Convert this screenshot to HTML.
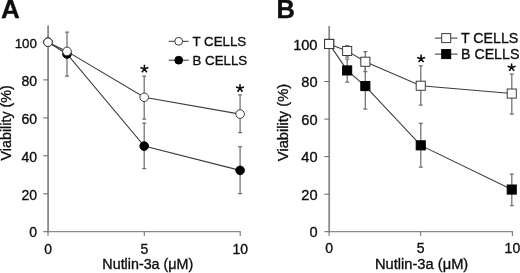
<!DOCTYPE html>
<html><head><meta charset="utf-8"><style>
html,body{margin:0;padding:0;background:#fff;}
svg{display:block;}
text{font-family:"Liberation Sans",sans-serif;fill:#0a0a0a;stroke:#0a0a0a;stroke-width:0.3px;}
</style></head><body>
<svg width="520" height="273" viewBox="0 0 520 273">
<defs><filter id="soft" x="0" y="0" width="520" height="273" filterUnits="userSpaceOnUse"><feGaussianBlur stdDeviation="0.4"/></filter></defs>
<rect width="520" height="273" fill="#fff"/>
<g filter="url(#soft)">
<path d="M48.1 25.5V232.29999999999998" fill="none" stroke="#8a8a8a" stroke-width="1.8"/>
<path d="M48 231.7H240.79999999999998" fill="none" stroke="#8a8a8a" stroke-width="1.3"/>
<path d="M43.2 231.7H48" stroke="#666" stroke-width="1"/>
<text x="37" y="237.4" text-anchor="end" font-size="14.0">0</text>
<path d="M43.2 193.8H48" stroke="#666" stroke-width="1"/>
<text x="37" y="199.5" text-anchor="end" font-size="14.0">20</text>
<path d="M43.2 155.8H48" stroke="#666" stroke-width="1"/>
<text x="37" y="161.6" text-anchor="end" font-size="14.0">40</text>
<path d="M43.2 117.9H48" stroke="#666" stroke-width="1"/>
<text x="37" y="123.6" text-anchor="end" font-size="14.0">60</text>
<path d="M43.2 79.9H48" stroke="#666" stroke-width="1"/>
<text x="37" y="85.7" text-anchor="end" font-size="14.0">80</text>
<path d="M43.2 42.0H48" stroke="#666" stroke-width="1"/>
<text x="37" y="47.7" text-anchor="end" font-size="13.4">100</text>
<path d="M48 231.7V235.89999999999998" stroke="#777" stroke-width="1.1"/>
<text x="48" y="253.5" text-anchor="middle" font-size="13.9">0</text>
<path d="M144.3 231.7V235.89999999999998" stroke="#777" stroke-width="1.1"/>
<text x="144.3" y="253.5" text-anchor="middle" font-size="13.9">5</text>
<path d="M240.2 231.7V235.89999999999998" stroke="#777" stroke-width="1.1"/>
<text x="240.2" y="253.5" text-anchor="middle" font-size="13.9">10</text>
<text x="147.8" y="268.8" text-anchor="middle" font-size="14.3">Nutlin-3a (μM)</text>
<text transform="translate(10.8,122.8) rotate(-90)" text-anchor="middle" font-size="14.3">Viability (%)</text>
<text x="1.0" y="18.3" font-size="26" font-weight="bold" fill="#000">A</text>
<path d="M48.0 42.2 L67.0 54.0 L144.2 146.1 L240.1 170.4" fill="none" stroke="#3c3c3c" stroke-width="1.1"/>
<path d="M67.0 32.0V76.0M65.0 32.0h4M65.0 76.0h4" fill="none" stroke="#707070" stroke-width="1.25"/>
<path d="M144.2 123.0V168.5M142.2 123.0h4M142.2 168.5h4" fill="none" stroke="#707070" stroke-width="1.25"/>
<path d="M240.1 146.5V193.5M238.1 146.5h4M238.1 193.5h4" fill="none" stroke="#707070" stroke-width="1.25"/>
<circle cx="48.0" cy="42.2" r="4.30" fill="#000" stroke="#000" stroke-width="1"/>
<circle cx="67.0" cy="54.0" r="4.30" fill="#000" stroke="#000" stroke-width="1"/>
<circle cx="144.2" cy="146.1" r="4.30" fill="#000" stroke="#000" stroke-width="1"/>
<circle cx="240.1" cy="170.4" r="4.30" fill="#000" stroke="#000" stroke-width="1"/>
<path d="M48.0 42.2 L67.0 51.4 L144.2 97.3 L240.1 114.1" fill="none" stroke="#3c3c3c" stroke-width="1.1"/>
<path d="M144.2 76.0V119.0M142.2 76.0h4M142.2 119.0h4" fill="none" stroke="#707070" stroke-width="1.25"/>
<path d="M240.1 94.8V132.6M238.1 94.8h4M238.1 132.6h4" fill="none" stroke="#707070" stroke-width="1.25"/>
<circle cx="48.0" cy="42.2" r="4.30" fill="#fff" stroke="#3a3a3a" stroke-width="1"/>
<circle cx="67.0" cy="51.4" r="4.30" fill="#fff" stroke="#3a3a3a" stroke-width="1"/>
<circle cx="144.2" cy="97.3" r="4.30" fill="#fff" stroke="#3a3a3a" stroke-width="1"/>
<circle cx="240.1" cy="114.1" r="4.30" fill="#fff" stroke="#3a3a3a" stroke-width="1"/>
<path d="M144.40 68.90L144.40 64.80M144.40 68.90L148.39 67.60M144.40 68.90L140.41 67.60M144.40 68.90L146.87 72.30M144.40 68.90L141.93 72.30" fill="none" stroke="#0a0a0a" stroke-width="1.55"/>
<path d="M240.00 88.30L240.00 84.20M240.00 88.30L243.99 87.00M240.00 88.30L236.01 87.00M240.00 88.30L242.47 91.70M240.00 88.30L237.53 91.70" fill="none" stroke="#0a0a0a" stroke-width="1.55"/>
<path d="M168.7 41.3h20" stroke="#333" stroke-width="1"/>
<circle cx="178.7" cy="41.3" r="3.90" fill="#fff" stroke="#3a3a3a" stroke-width="1"/>
<text x="192.5" y="46.1" font-size="13.3">T CELLS</text>
<path d="M168.7 60.199999999999996h20" stroke="#333" stroke-width="1"/>
<circle cx="178.7" cy="60.2" r="3.90" fill="#000" stroke="#000" stroke-width="1"/>
<text x="192.5" y="65.0" font-size="13.3">B CELLS</text>
<path d="M329.20000000000005 26V232.29999999999998" fill="none" stroke="#8a8a8a" stroke-width="1.8"/>
<path d="M329.1 231.7H513.0" fill="none" stroke="#8a8a8a" stroke-width="1.3"/>
<path d="M324.3 231.7H329.1" stroke="#666" stroke-width="1"/>
<text x="317.5" y="237.3" text-anchor="end" font-size="14.6">0</text>
<path d="M324.3 194.2H329.1" stroke="#666" stroke-width="1"/>
<text x="317.5" y="199.7" text-anchor="end" font-size="14.6">20</text>
<path d="M324.3 156.6H329.1" stroke="#666" stroke-width="1"/>
<text x="317.5" y="162.2" text-anchor="end" font-size="14.6">40</text>
<path d="M324.3 119.1H329.1" stroke="#666" stroke-width="1"/>
<text x="317.5" y="124.6" text-anchor="end" font-size="14.6">60</text>
<path d="M324.3 81.5H329.1" stroke="#666" stroke-width="1"/>
<text x="317.5" y="87.1" text-anchor="end" font-size="14.6">80</text>
<path d="M324.3 44.0H329.1" stroke="#666" stroke-width="1"/>
<text x="317.5" y="49.6" text-anchor="end" font-size="14.6">100</text>
<path d="M329.1 231.7V235.89999999999998" stroke="#777" stroke-width="1.1"/>
<text x="329.1" y="253.1" text-anchor="middle" font-size="14.0">0</text>
<path d="M420.6 231.7V235.89999999999998" stroke="#777" stroke-width="1.1"/>
<text x="420.6" y="253.1" text-anchor="middle" font-size="14.0">5</text>
<path d="M512.4 231.7V235.89999999999998" stroke="#777" stroke-width="1.1"/>
<text x="512.4" y="253.1" text-anchor="middle" font-size="14.0">10</text>
<text x="421.6" y="268.8" text-anchor="middle" font-size="14.7">Nutlin-3a (μM)</text>
<text transform="translate(288.4,122.5) rotate(-90)" text-anchor="middle" font-size="14.7">Viability (%)</text>
<text x="276.6" y="18.3" font-size="25.5" font-weight="bold" fill="#000">B</text>
<path d="M329.1 43.9 L347.2 70.4 L365.3 86.1 L420.8 145.4 L511.8 189.6" fill="none" stroke="#3c3c3c" stroke-width="1.1"/>
<path d="M347.2 59.0V82.2M345.2 59.0h4M345.2 82.2h4" fill="none" stroke="#707070" stroke-width="1.25"/>
<path d="M365.3 63.0V109.1M363.3 63.0h4M363.3 109.1h4" fill="none" stroke="#707070" stroke-width="1.25"/>
<path d="M420.8 123.3V167.0M418.8 123.3h4M418.8 167.0h4" fill="none" stroke="#707070" stroke-width="1.25"/>
<path d="M511.8 174.2V205.5M509.8 174.2h4M509.8 205.5h4" fill="none" stroke="#707070" stroke-width="1.25"/>
<rect x="324.6" y="39.4" width="9.1" height="9.1" fill="#000" stroke="#000" stroke-width="1"/>
<rect x="342.6" y="65.9" width="9.1" height="9.1" fill="#000" stroke="#000" stroke-width="1"/>
<rect x="360.8" y="81.5" width="9.1" height="9.1" fill="#000" stroke="#000" stroke-width="1"/>
<rect x="416.2" y="140.8" width="9.1" height="9.1" fill="#000" stroke="#000" stroke-width="1"/>
<rect x="507.2" y="185.0" width="9.1" height="9.1" fill="#000" stroke="#000" stroke-width="1"/>
<path d="M329.1 43.9 L347.2 50.9 L365.3 61.8 L420.8 85.8 L511.8 93.5" fill="none" stroke="#3c3c3c" stroke-width="1.1"/>
<path d="M347.2 45.5V57.0M345.2 45.5h4M345.2 57.0h4" fill="none" stroke="#707070" stroke-width="1.25"/>
<path d="M365.3 51.5V71.6M363.3 51.5h4M363.3 71.6h4" fill="none" stroke="#707070" stroke-width="1.25"/>
<path d="M420.8 65.8V105.0M418.8 65.8h4M418.8 105.0h4" fill="none" stroke="#707070" stroke-width="1.25"/>
<path d="M511.8 74.2V114.0M509.8 74.2h4M509.8 114.0h4" fill="none" stroke="#707070" stroke-width="1.25"/>
<rect x="324.6" y="39.4" width="9.1" height="9.1" fill="#fff" stroke="#3a3a3a" stroke-width="1"/>
<rect x="342.6" y="46.4" width="9.1" height="9.1" fill="#fff" stroke="#3a3a3a" stroke-width="1"/>
<rect x="360.8" y="57.2" width="9.1" height="9.1" fill="#fff" stroke="#3a3a3a" stroke-width="1"/>
<rect x="416.2" y="81.2" width="9.1" height="9.1" fill="#fff" stroke="#3a3a3a" stroke-width="1"/>
<rect x="507.2" y="89.0" width="9.1" height="9.1" fill="#fff" stroke="#3a3a3a" stroke-width="1"/>
<path d="M421.10 58.70L421.10 54.60M421.10 58.70L425.09 57.40M421.10 58.70L417.11 57.40M421.10 58.70L423.57 62.10M421.10 58.70L418.63 62.10" fill="none" stroke="#0a0a0a" stroke-width="1.55"/>
<path d="M511.60 67.50L511.60 63.40M511.60 67.50L515.59 66.20M511.60 67.50L507.61 66.20M511.60 67.50L514.07 70.90M511.60 67.50L509.13 70.90" fill="none" stroke="#0a0a0a" stroke-width="1.55"/>
<path d="M434.9 38.1h22.6" stroke="#333" stroke-width="1"/>
<rect x="441.7" y="33.6" width="9.0" height="9.0" fill="#fff" stroke="#3a3a3a" stroke-width="1"/>
<text x="461" y="43.2" font-size="14.2">T CELLS</text>
<path d="M434.9 54.1h22.6" stroke="#333" stroke-width="1"/>
<rect x="441.7" y="49.6" width="9.0" height="9.0" fill="#000" stroke="#000" stroke-width="1"/>
<text x="461" y="59.2" font-size="14.2">B CELLS</text>
</g>
</svg>
</body></html>
